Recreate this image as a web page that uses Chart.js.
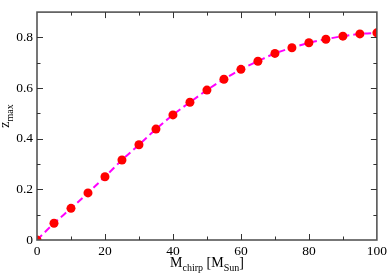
<!DOCTYPE html>
<html>
<head>
<meta charset="utf-8">
<script src="https://cdn.jsdelivr.net/npm/chart.js@4"></script>
<style>
  html, body { margin: 0; padding: 0; background: #fff; }
  #wrap { width: 390px; height: 275px; }
</style>
</head>
<body>
<div id="wrap"><canvas id="zChart" width="390" height="275"></canvas></div>
<script>
  // ---------- Data ----------
  const chirpMass = [0, 5, 10, 15, 20, 25, 30, 35, 40, 45, 50, 55, 60, 65, 70, 75, 80, 85, 90, 95, 100];
  const zMax = [0, 0.066, 0.125, 0.186, 0.25, 0.316, 0.376, 0.438, 0.494, 0.544, 0.592, 0.635, 0.674, 0.706, 0.737, 0.759, 0.779, 0.793, 0.805, 0.814, 0.818];
  const xTicks = [0, 20, 40, 60, 80, 100];
  const yTicks = [0, 0.2, 0.4, 0.6, 0.8];
  const xMinor = [10, 30, 50, 70, 90];
  const yMinor = [0.1, 0.3, 0.5, 0.7];

  const points = chirpMass.map((m, i) => ({ x: m, y: zMax[i] }));
  const serif = "'Liberation Serif', 'DejaVu Serif', serif";

  // frame + inward ticks on all four sides
  const framePlugin = {
    id: "frame",
    afterDraw(chart) {
      const { ctx, chartArea: a, scales } = chart;
      ctx.save();
      ctx.strokeStyle = "#555";
      ctx.lineWidth = 1.6;
      ctx.strokeRect(a.left, a.top, a.right - a.left, a.bottom - a.top);
      ctx.lineWidth = 1;
      ctx.strokeStyle = "#333";
      const tick = (x1, y1, x2, y2) => {
        ctx.beginPath();
        ctx.moveTo(x1, y1);
        ctx.lineTo(x2, y2);
        ctx.stroke();
      };
      xTicks.concat(xMinor).forEach((v) => {
        const len = xTicks.includes(v) ? 6 : 3.5;
        const px = Math.round(scales.x.getPixelForValue(v)) + 0.5;
        if (v === 0 || v === 100) return;
        tick(px, a.bottom, px, a.bottom - len);
        tick(px, a.top, px, a.top + len);
      });
      yTicks.concat(yMinor).forEach((v) => {
        const len = yTicks.includes(v) ? 6 : 3.5;
        const py = Math.round(scales.y.getPixelForValue(v)) + 0.5;
        if (v === 0) return;
        tick(a.left, py, a.left + len, py);
        tick(a.right, py, a.right - len, py);
      });
      ctx.restore();
    },
  };

  // axis titles with subscripts
  const drawParts = (ctx, parts, x, y) => {
    parts.forEach((p) => {
      ctx.font = `${p.size}px ${serif}`;
      ctx.fillText(p.t, x, y + p.dy);
      x += ctx.measureText(p.t).width;
    });
  };
  const partsWidth = (ctx, parts) =>
    parts.reduce((w, p) => {
      ctx.font = `${p.size}px ${serif}`;
      return w + ctx.measureText(p.t).width;
    }, 0);

  const titlePlugin = {
    id: "titles",
    afterDraw(chart) {
      const { ctx, chartArea: a } = chart;
      ctx.save();
      ctx.fillStyle = "#000";
      ctx.textBaseline = "alphabetic";
      ctx.textAlign = "left";
      const xParts = [
        { t: "M", size: 14, dy: 0 },
        { t: "chirp", size: 10, dy: 4 },
        { t: " [M", size: 14, dy: 0 },
        { t: "Sun", size: 10, dy: 4 },
        { t: "]", size: 14, dy: 0 },
      ];
      const cx = (a.left + a.right) / 2;
      drawParts(ctx, xParts, cx - partsWidth(ctx, xParts) / 2, 267);

      const yParts = [
        { t: "z", size: 14, dy: 0 },
        { t: "max", size: 10, dy: 4 },
      ];
      ctx.translate(9, 116);
      ctx.rotate(-Math.PI / 2);
      drawParts(ctx, yParts, -partsWidth(ctx, yParts) / 2, 0);
      ctx.restore();
    },
  };

  new Chart(document.getElementById("zChart"), {
    type: "scatter",
    data: {
      datasets: [
        {
          label: "z_max",
          data: points,
          pointRadius: 4.5,
          pointHoverRadius: 4.5,
          pointBackgroundColor: "#ff0000",
          pointBorderColor: "#ff0000",
          pointBorderWidth: 0,
          showLine: false,
        },
        {
          label: "fit",
          data: points,
          showLine: true,
          pointRadius: 0,
          borderColor: "#ff00ff",
          borderWidth: 2,
          borderDash: [7, 4],
          cubicInterpolationMode: "monotone",
        },
      ],
    },
    options: {
      responsive: false,
      animation: false,
      events: [],
      layout: { padding: { top: 1, right: 12, left: 0, bottom: 0 } },
      plugins: { legend: { display: false }, tooltip: { enabled: false } },
      scales: {
        x: {
          type: "linear",
          min: 0,
          max: 100,
          grid: { display: false, drawTicks: false, tickLength: 0 },
          border: { display: false },
          afterBuildTicks: (s) => { s.ticks = xTicks.map((v) => ({ value: v })); },
          afterFit: (s) => { s.height = 35; },
          ticks: {
            color: "#000",
            padding: 3,
            maxRotation: 0,
            font: { family: serif, size: 13.5 },
          },
        },
        y: {
          type: "linear",
          min: 0,
          max: 0.9,
          grid: { display: false, drawTicks: false, tickLength: 0 },
          border: { display: false },
          afterBuildTicks: (s) => { s.ticks = yTicks.map((v) => ({ value: v })); },
          afterFit: (s) => { s.width = 37; },
          ticks: {
            color: "#000",
            padding: 4,
            font: { family: serif, size: 13.5 },
            callback: (v) => (v === 0 ? "0" : v.toFixed(1)),
          },
        },
      },
    },
    plugins: [framePlugin, titlePlugin],
  });
</script>
</body>
</html>
